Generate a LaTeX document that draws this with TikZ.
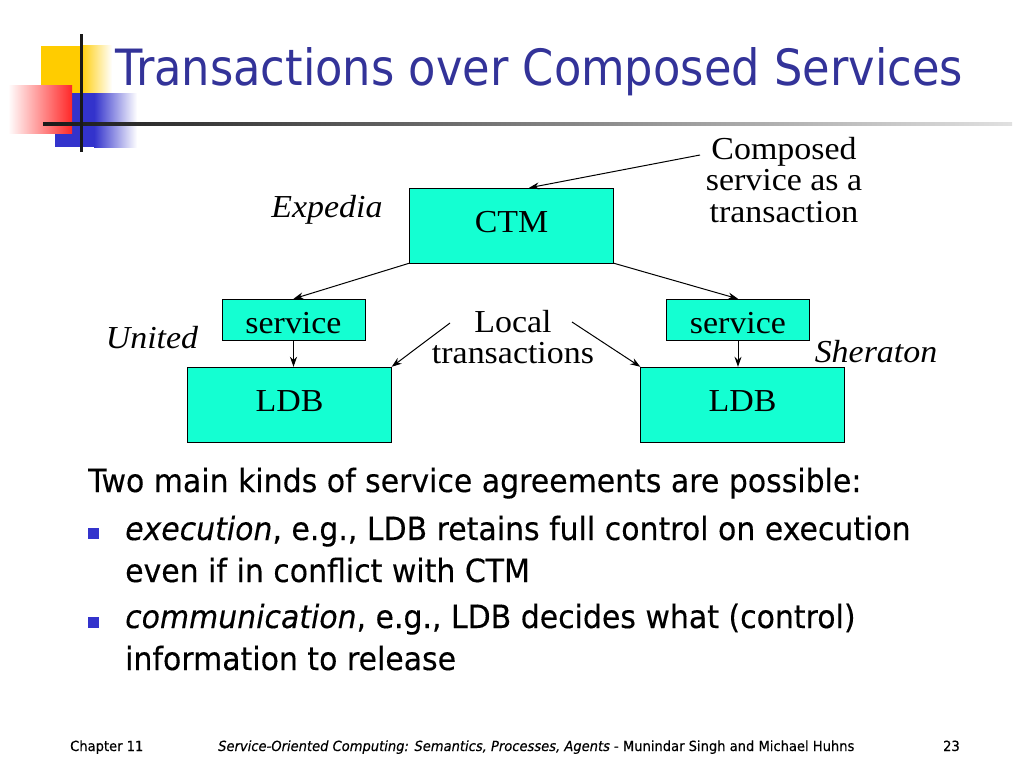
\documentclass[tikz,border=0pt]{standalone}
\usepackage{fontspec}
\usetikzlibrary{arrows.meta}
\setmainfont{Liberation Serif}[FakeStretch=1.06]
\newfontfamily\tahoma[FakeStretch=0.895]{DejaVu Sans}
\newfontfamily\tahomacorps[FakeStretch=0.935, FakeBold=0.3]{DejaVu Sans}
\definecolor{titleblue}{RGB}{51,51,153}
\definecolor{bulletblue}{RGB}{51,51,204}
\definecolor{boxcyan}{RGB}{20,255,210}
\definecolor{logoyellow}{RGB}{255,204,0}
\definecolor{logored}{RGB}{255,40,40}
\begin{document}
\begin{tikzpicture}[x=1pt,y=-1pt]
\tikzset{boite/.style={draw, fill=boxcyan, inner sep=0pt, font=\fontsize{32}{32}\selectfont, text height=21pt, text depth=7pt},
  petiteboite/.style={boite, minimum width=143pt, minimum height=41pt, text height=27pt, text depth=0pt},
  grandeboite/.style={boite, minimum width=204pt, minimum height=75pt},
  fleche/.style={-{Stealth[length=10pt,width=7pt]}, line width=1pt},
  etiquette/.style={inner sep=0pt, font=\fontsize{32}{31.5}\selectfont, align=center},
  corps/.style={anchor=base west, inner sep=0pt, font=\tahomacorps\fontsize{32}{36}\selectfont},
  pied/.style={anchor=base west, inner sep=0pt, font=\tahomacorps\fontsize{14}{16}\selectfont}}
\useasboundingbox (0,0) rectangle (1024,768);
\fill[white] (0,0) rectangle (1024,768);
\fill[logoyellow] (41,46) rectangle (81,93);
\shade[left color=logoyellow, right color=white] (80,46) rectangle (112,93);
\fill[bulletblue] (55,93) rectangle (95,147);
\shade[left color=bulletblue, right color=white] (94,93) rectangle (137,147);
\shade[left color=white, right color=logored] (8,85) rectangle (72,133);
\shade[left color=black!90, right color=black!12] (43,122.5) rectangle (1012,125.5);
\fill[black!90] (79.5,34) rectangle (82.5,152);
\node[anchor=base west, inner sep=0pt, text=titleblue, font=\tahoma\fontsize{50}{56}\selectfont] (titre) at (115,85) {Transactions over Composed Services};
\node[grandeboite] (ctm) at (511.5,225.5) {CTM};
\node[petiteboite] (servG) at (293.5,319.5) {service};
\node[petiteboite] (servD) at (738,319.5) {service};
\node[grandeboite] (ldbG) at (289.5,404.5) {LDB};
\node[grandeboite] (ldbD) at (742.5,404.5) {LDB};
\node[etiquette, anchor=north] (compose) at (784,137) {Composed\\service as a\\transaction};
\node[etiquette, anchor=north] (local) at (513,310) {Local\\transactions};
\node[etiquette, anchor=base, font=\itshape\fontsize{32}{32}\selectfont] (expedia) at (327,217) {Expedia};
\node[etiquette, anchor=base, font=\itshape\fontsize{32}{32}\selectfont] (united) at (152,348) {United};
\node[etiquette, anchor=base, font=\itshape\fontsize{32}{32}\selectfont] (sheraton) at (876,362) {Sheraton};
\coordinate (queueC) at (700,155);
\coordinate (queueLG) at (450,323);
\coordinate (queueLD) at (572,322);
\draw[fleche] (queueC) -- (ctm.65);
\draw[fleche] (ctm.south west) -- (servG.north);
\draw[fleche] (ctm.south east) -- (servD.north);
\draw[fleche] (servG.south) -- (servG.south |- ldbG.north);
\draw[fleche] (servD.south) -- (servD.south |- ldbD.north);
\draw[fleche] (queueLG) -- (ldbG.north east);
\draw[fleche] (queueLD) -- (ldbD.north west);
\node[corps] (intro) at (88,492) {Two main kinds of service agreements are possible:};
\fill[bulletblue] (88,528) rectangle (99,539);
\node[corps] (execA) at (125,540) {\textit{execution}, e.g., LDB retains full control on execution};
\node[corps] (execB) at (125,582) {even if in conflict with CTM};
\fill[bulletblue] (88,617) rectangle (99,628);
\node[corps] (commA) at (125,628) {\textit{communication}, e.g., LDB decides what (control)};
\node[corps] (commB) at (125,670) {information to release};
\node[pied] (chapitre) at (70,751) {Chapter 11};
\node[pied] (livre) at (218,751) {\textit{Service-Oriented Computing: Semantics, Processes, Agents} - Munindar Singh and Michael Huhns};
\node[pied, anchor=base east] (page) at (960,751) {23};
\end{tikzpicture}
\end{document}
